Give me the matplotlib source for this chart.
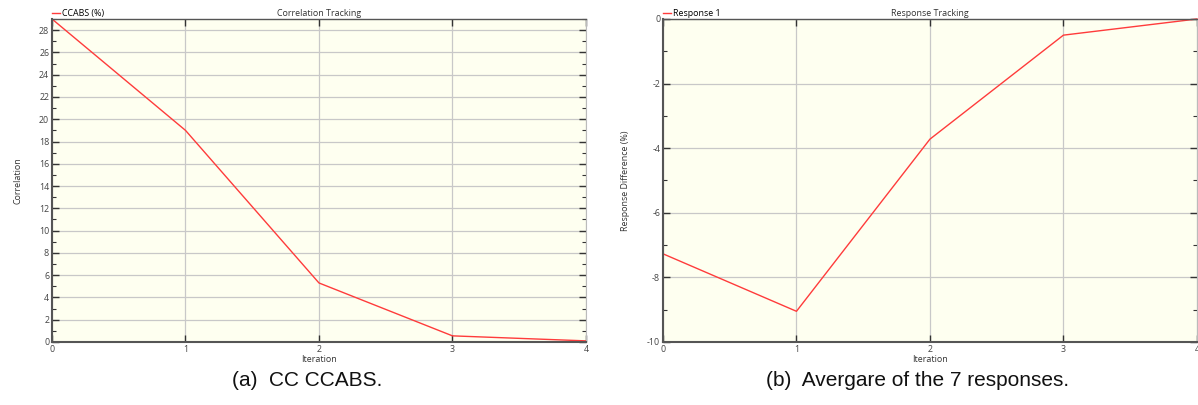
import matplotlib.pyplot as plt
from matplotlib.ticker import MultipleLocator
from matplotlib.lines import Line2D

plt.rcParams["axes.unicode_minus"] = False

# Optimisation history
iterations = [0, 1, 2, 3, 4]
ccabs = [29.0, 19.0, 5.3, 0.55, 0.1]
response_diff = [-7.27, -9.05, -3.72, -0.5, 0.0]

panel_titles = ["Correlation Tracking", "Response Tracking"]
legend_labels = ["CCABS (%)", "Response 1"]
y_labels = ["Correlation", "Response Difference (%)"]
captions = ["(a)  CC CCABS.", "(b)  Avergare of the 7 responses."]

LINE_RED = "#ff3b3b"
BG = "#fefff0"
UI_FONT = ["Open Sans", "DejaVu Sans"]
CAP_FONT = ["Liberation Sans", "DejaVu Sans"]

fig = plt.figure(figsize=(11.98, 4.05), dpi=100)
ax_a = fig.add_axes([0.0434, 0.1556, 0.4457, 0.7975])
ax_b = fig.add_axes([0.5534, 0.1556, 0.4457, 0.7975])


def style_axes(ax, ylim, ymajor, yminor, title, leg, ylabel, caption):
    ax.set_facecolor(BG)
    ax.set_xlim(0, 4)
    ax.set_ylim(*ylim)
    ax.xaxis.set_major_locator(MultipleLocator(1))
    ax.yaxis.set_major_locator(MultipleLocator(ymajor))
    ax.yaxis.set_minor_locator(MultipleLocator(yminor))
    ax.grid(True, which="major", color="#c8c8c8", linewidth=0.9)
    ax.set_axisbelow(True)
    ax.tick_params(which="both", direction="in", top=True, right=True,
                   colors="#333333", labelcolor="#444444", labelsize=6.4,
                   pad=2)
    ax.tick_params(which="major", length=5, width=1)
    ax.tick_params(which="minor", length=3, width=0.8)
    for lab in ax.get_xticklabels() + ax.get_yticklabels():
        lab.set_family(UI_FONT)
    for side in ("left", "bottom"):
        ax.spines[side].set_color("#555555")
        ax.spines[side].set_linewidth(1.5)
    ax.spines["top"].set_color("#555555")
    ax.spines["top"].set_linewidth(1.0)
    ax.spines["right"].set_color("#bbbbbb")
    ax.spines["right"].set_linewidth(0.8)
    ax.set_xlabel("Iteration", fontsize=6.4, family=UI_FONT, labelpad=1,
                  color="#333333")
    ax.set_ylabel(ylabel, fontsize=6.4, family=UI_FONT, labelpad=12,
                  color="#333333")
    ax.set_title(title, fontsize=6.4, family=UI_FONT, pad=2.5, color="#333333")
    handle = Line2D([], [], color=LINE_RED, linewidth=1)
    ax.legend([handle], [leg], loc="lower left", bbox_to_anchor=(-0.003, 1.0),
              frameon=False, prop={"family": UI_FONT, "size": 6.4},
              handlelength=0.9, handletextpad=0.3, borderpad=0,
              borderaxespad=0.15)
    ax.text(0.4775, -0.12, caption, transform=ax.transAxes, ha="center",
            va="center", fontsize=15, family=CAP_FONT, color="#111111")


ax_a.plot(iterations, ccabs, color=LINE_RED, linewidth=1, clip_on=False)
style_axes(ax_a, (0, 29), 2, 1, panel_titles[0], legend_labels[0],
           y_labels[0], captions[0])

ax_b.plot(iterations, response_diff, color=LINE_RED, linewidth=1,
          clip_on=False)
style_axes(ax_b, (-10, 0), 2, 1, panel_titles[1], legend_labels[1],
           y_labels[1], captions[1])

fig.savefig("out.png", dpi=100)
